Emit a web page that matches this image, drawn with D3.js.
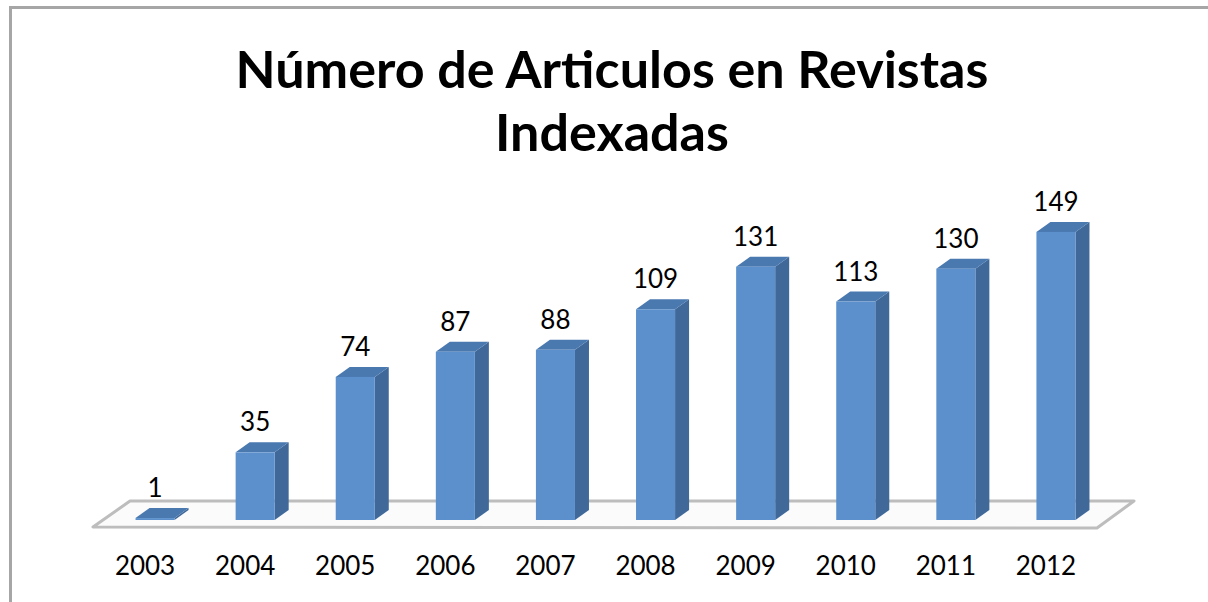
<!DOCTYPE html>
<html>
<head>
<meta charset="utf-8">
<script src="https://cdn.jsdelivr.net/npm/d3@7"></script>
<style>
  body { margin: 0; background: #fff; }
  svg { display: block; }
  text { font-family: Lato, "Open Sans", "Liberation Sans", sans-serif; }
</style>
</head>
<body>
<svg id="chart" width="1208" height="602"></svg>
<script>
const years = ["2003", "2004", "2005", "2006", "2007", "2008", "2009", "2010", "2011", "2012"];
const articles = [1, 35, 74, 87, 88, 109, 131, 113, 130, 149];
const titleLines = ["Número de Articulos en Revistas", "Indexadas"];

const svg = d3.select("#chart");
const W = 1208, H = 602;
const depthX = 14, depthY = -10;   // bar depth offset
const floorDX = 37, floorDY = -26; // floor depth offset

// frame (only top + left visible)
svg.append("path")
  .attr("d", `M10.5,${H} L10.5,7.5 L${W},7.5`)
  .attr("fill", "none")
  .attr("stroke", "#a6a6a6")
  .attr("stroke-width", 3);

// title
const title = svg.append("g");
title.selectAll("text")
  .data(titleLines)
  .join("text")
  .attr("x", 612)
  .attr("y", (d, i) => i === 0 ? 88 : 151)
  .attr("text-anchor", "middle")
  .attr("font-weight", "bold")
  .attr("font-size", 44)
  .attr("fill", "#000")
  .text(d => d);
const first = title.select("text").node();
const fs = 44 * 753 / first.getComputedTextLength();
title.selectAll("text").attr("font-size", fs);

const x = d3.scaleBand()
  .domain(years)
  .range([105, 1106])
  .paddingInner(0.61)
  .paddingOuter(0.305);

const y = d3.scaleLinear()
  .domain([0, 150])
  .range([520, 230]);

// floor
const fl = x.range()[0] - 12, fr = x.range()[1] - 9, fy = 527;
svg.append("polygon")
  .attr("points", [[fl, fy], [fr, fy + 1], [fr + floorDX, fy + floorDY], [fl + floorDX, fy + floorDY]].join(" "))
  .attr("fill", "#fbfbfb")
  .attr("stroke", "#bdbdbd")
  .attr("stroke-width", 3)
  .attr("stroke-linejoin", "round");

const data = years.map((yr, i) => ({ year: yr, value: articles[i] }));
const bw = x.bandwidth();

const bars = svg.append("g").selectAll("g")
  .data(data)
  .join("g");

// side face
bars.append("polygon")
  .attr("points", d => {
    const x1 = x(d.year) + bw, t = y(d.value), b = y(0);
    return [[x1, b], [x1, t], [x1 + depthX, t + depthY], [x1 + depthX, b + depthY]].join(" ");
  })
  .attr("fill", "#40699a");

// top face
bars.append("polygon")
  .attr("points", d => {
    const x0 = x(d.year), t = y(d.value);
    return [[x0, t], [x0 + bw, t], [x0 + bw + depthX, t + depthY], [x0 + depthX, t + depthY]].join(" ");
  })
  .attr("fill", "#4a79b0");

// front face
bars.append("rect")
  .attr("x", d => x(d.year))
  .attr("y", d => y(d.value))
  .attr("width", bw)
  .attr("height", d => y(0) - y(d.value))
  .attr("fill", "#5b90cc");

// value labels
svg.append("g").selectAll("text")
  .data(data)
  .join("text")
  .attr("x", d => x(d.year) + bw / 2)
  .attr("y", d => y(d.value) - 21)
  .attr("text-anchor", "middle")
  .attr("font-size", 26)
  .attr("fill", "#000")
  .text(d => d.value);

// year labels (sit a little left of the bars, like the 3D projection)
svg.append("g").selectAll("text")
  .data(years)
  .join("text")
  .attr("x", d => x(d) + bw / 2 - 10)
  .attr("y", 575)
  .attr("text-anchor", "middle")
  .attr("font-size", 26)
  .attr("fill", "#000")
  .text(d => d);
</script>
</body>
</html>
